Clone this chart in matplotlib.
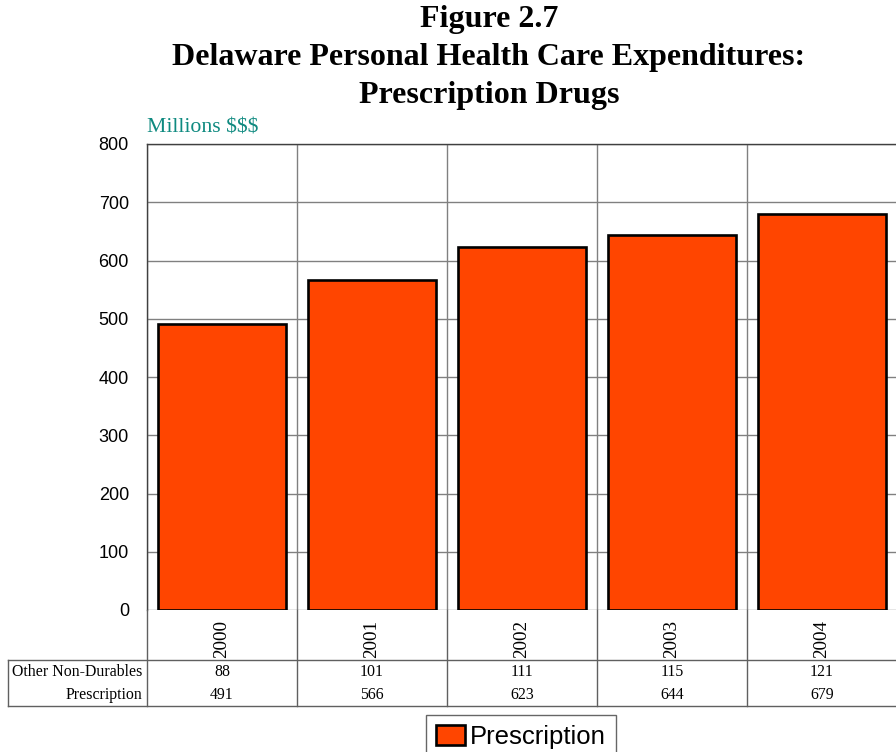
import matplotlib
matplotlib.use("Agg")
import matplotlib.pyplot as plt

years = ["2000", "2001", "2002", "2003", "2004"]
prescription = [491, 566, 623, 644, 679]
other_nondurables = [88, 101, 111, 115, 121]
row_labels = ["Other Non-Durables", "Prescription"]
yticks = [0, 100, 200, 300, 400, 500, 600, 700, 800]
title_lines = ["Figure 2.7", "Delaware Personal Health Care Expenditures:", "Prescription Drugs"]

W, H = 896, 752
fig = plt.figure(figsize=(W / 100, H / 100), dpi=100)

def fx(px):
    return px / W

def fy(py):
    return 1 - py / H

L, R, T, B = 147, 897, 144, 610
TB = 706
ax = fig.add_axes([fx(L), fy(B), fx(R - L), fy(T) - fy(B)])
n = len(years)
xs = list(range(n))
ax.bar(xs, prescription, width=0.853, color="#FF4500", edgecolor="black",
       linewidth=1.9, zorder=3, label="Prescription")
ax.set_xlim(-0.5, n - 0.5)
ax.set_ylim(0, 800)
ax.set_yticks(yticks)
ax.set_yticklabels([str(v) for v in yticks], fontfamily="Liberation Sans", fontsize=13)
ax.tick_params(axis="y", length=0, pad=13)
ax.set_xticks([])
for y in yticks:
    ax.axhline(y, color="#808080", lw=1.0, zorder=1)
for b in range(n + 1):
    ax.axvline(b - 0.5, color="#808080", lw=1.0, zorder=1)
for s in ["left", "top"]:
    ax.spines[s].set_color("#404040")
    ax.spines[s].set_linewidth(1.0)
ax.spines["right"].set_visible(False)
ax.spines["bottom"].set_visible(False)

# table / category area
ax2 = fig.add_axes([fx(L), fy(TB), fx(R - L), fy(B) - fy(TB)])
ax2.set_xlim(-0.5, n - 0.5)
ax2.set_ylim(TB, B)  # pixel coords, inverted
ax2.axis("off")
ppx = n / (R - L)
x_left = -0.5 - (L - 8) * ppx
for b in range(n + 1):
    ax2.plot([b - 0.5, b - 0.5], [B, TB], color="#606060", lw=1.0, clip_on=False)
ax2.plot([x_left, n - 0.5], [660, 660], color="#606060", lw=1.0, clip_on=False)
ax2.plot([x_left, n - 0.5], [TB, TB], color="#606060", lw=1.0, clip_on=False)
ax2.plot([x_left, x_left], [660, TB], color="#606060", lw=1.0, clip_on=False)
for i, yr in enumerate(years):
    ax2.text(i, 658, yr, rotation=90, ha="center", va="bottom",
             fontfamily="Liberation Serif", fontsize=13.8)
    ax2.text(i, 672, str(other_nondurables[i]), ha="center", va="center",
             fontfamily="Liberation Serif", fontsize=11.4)
    ax2.text(i, 695, str(prescription[i]), ha="center", va="center",
             fontfamily="Liberation Serif", fontsize=11.4)
ax2.text(-0.5 - 5 * ppx, 672, row_labels[0], ha="right", va="center",
         fontfamily="Liberation Serif", fontsize=11.4, clip_on=False)
ax2.text(-0.5 - 5 * ppx, 695, row_labels[1], ha="right", va="center",
         fontfamily="Liberation Serif", fontsize=11.4, clip_on=False)

# title
for line, ypx in zip(title_lines, [19, 57, 95]):
    fig.text(fx(489), fy(ypx), line, ha="center", va="center",
             fontfamily="Liberation Serif", fontweight="bold", fontsize=23)
fig.text(fx(147), fy(128), "Millions $$$", ha="left", va="center",
         fontfamily="Liberation Serif", fontsize=15.7, color="#0F8A80")

leg = fig.legend(loc="center", bbox_to_anchor=(fx(521), fy(737)),
                 prop={"family": "Liberation Sans", "size": 18.5},
                 frameon=True, fancybox=False, edgecolor="#404040",
                 handlelength=1.1, handleheight=0.8, handletextpad=0.2,
                 borderpad=0.4, borderaxespad=0)
leg.get_frame().set_linewidth(1.0)

fig.savefig("out.png", dpi=100)
